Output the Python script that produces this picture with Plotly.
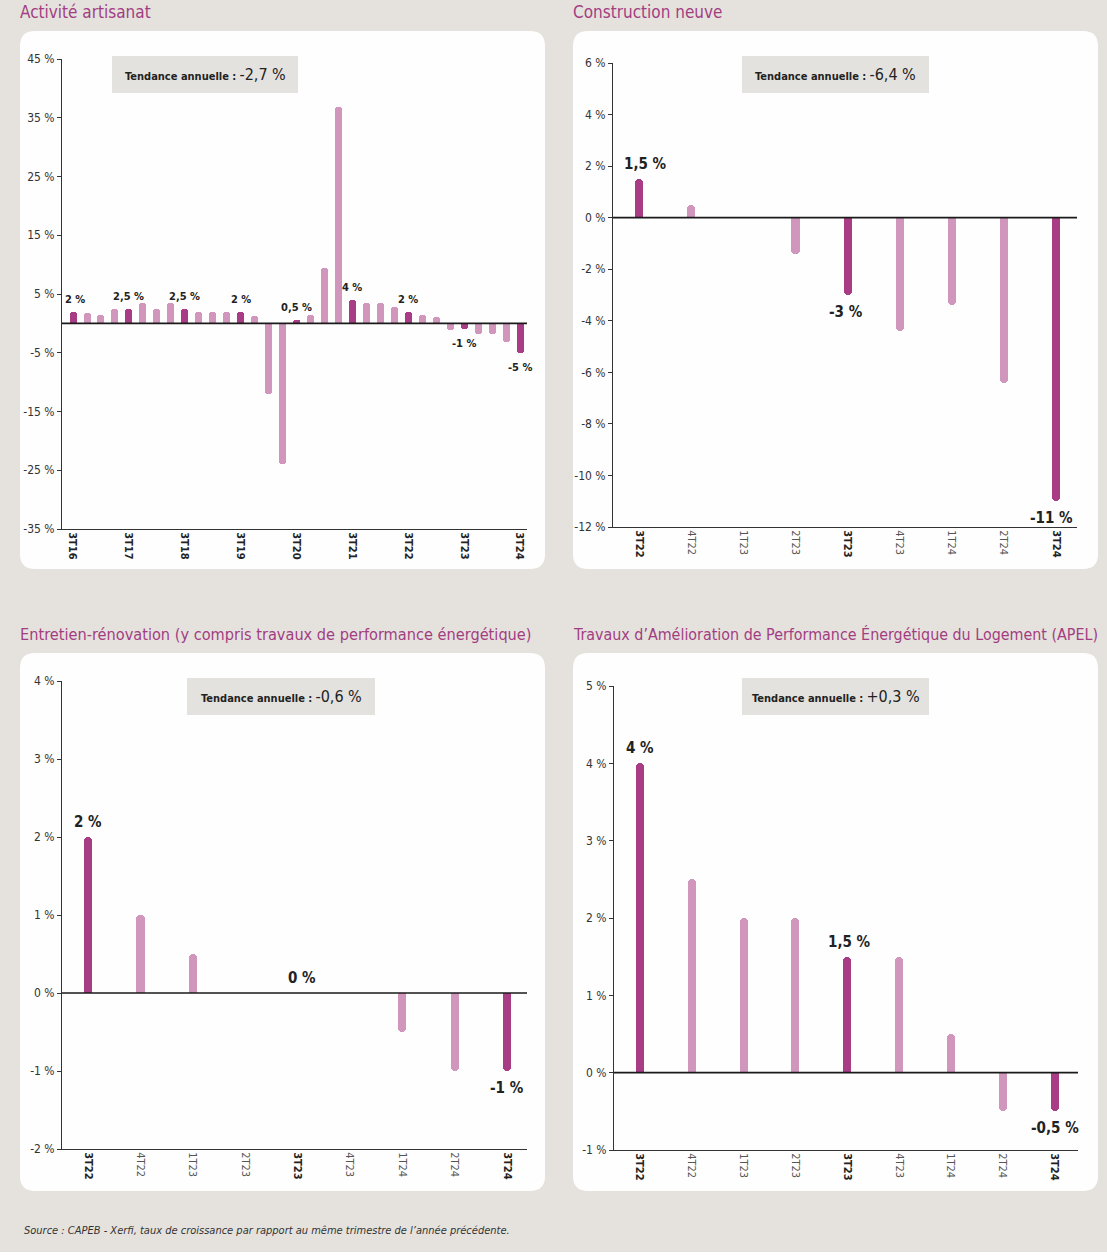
import plotly.graph_objects as go

W, H = 1107, 1256
FONT = "DejaVu Sans Condensed, Liberation Sans Narrow, Arial Narrow, sans-serif"
DARK = "#a83c85"
LIGHT = "#d096bb"
BEIGE = "#e5e2dd"
BOXGRAY = "#e4e2de"
TXT = "#222222"
TITLE_COL = "#a23d82"

# ---------------- data ----------------
p1_quarters = ["3T16", "4T16", "1T17", "2T17", "3T17", "4T17", "1T18", "2T18", "3T18", "4T18",
               "1T19", "2T19", "3T19", "4T19", "1T20", "2T20", "3T20", "4T20", "1T21", "2T21",
               "3T21", "4T21", "1T22", "2T22", "3T22", "4T22", "1T23", "2T23", "3T23", "4T23",
               "1T24", "2T24", "3T24"]
p1_values = [2, 1.8, 1.5, 2.4, 2.5, 3.4, 2.5, 3.4, 2.5, 2.0, 2.0, 2.0, 2, 1.2, -12, -24, 0.5,
             1.5, 9.4, 36.9, 4, 3.4, 3.4, 2.8, 2, 1.4, 1.1, -1.1, -1, -1.8, -1.8, -3.2, -5]
p1_value_labels = {0: "2 %", 4: "2,5 %", 8: "2,5 %", 12: "2 %", 16: "0,5 %", 20: "4 %",
                   24: "2 %", 28: "-1 %", 32: "-5 %"}
p1_yticks = [45, 35, 25, 15, 5, -5, -15, -25, -35]
p1_yticktext = ["45 %", "35 %", "25 %", "15 %", "5 %", "-5 %", "-15 %", "-25 %", "-35 %"]
p1_trend = "-2,7 %"

short_quarters = ["3T22", "4T22", "1T23", "2T23", "3T23", "4T23", "1T24", "2T24", "3T24"]

p2_values = [1.5, 0.5, 0, -1.4, -3, -4.4, -3.4, -6.4, -11]
p2_value_labels = {0: "1,5 %", 4: "-3 %", 8: "-11 %"}
p2_yticks = [6, 4, 2, 0, -2, -4, -6, -8, -10, -12]
p2_yticktext = ["6 %", "4 %", "2 %", "0 %", "-2 %", "-4 %", "-6 %", "-8 %", "-10 %", "-12 %"]
p2_trend = "-6,4 %"

p3_values = [2, 1, 0.5, 0, 0, 0, -0.5, -1, -1]
p3_value_labels = {0: "2 %", 4: "0 %", 8: "-1 %"}
p3_yticks = [4, 3, 2, 1, 0, -1, -2]
p3_yticktext = ["4 %", "3 %", "2 %", "1 %", "0 %", "-1 %", "-2 %"]
p3_trend = "-0,6 %"

p4_values = [4, 2.5, 2, 2, 1.5, 1.5, 0.5, -0.5, -0.5]
p4_value_labels = {0: "4 %", 4: "1,5 %", 8: "-0,5 %"}
p4_yticks = [5, 4, 3, 2, 1, 0, -1]
p4_yticktext = ["5 %", "4 %", "3 %", "2 %", "1 %", "0 %", "-1 %"]
p4_trend = "+0,3 %"

titles = ["Activité artisanat", "Construction neuve",
          "Entretien-rénovation (y compris travaux de performance énergétique)",
          "Travaux d’Amélioration de Performance Énergétique du Logement (APEL)"]
source = "Source : CAPEB - Xerfi, taux de croissance par rapport au même trimestre de l’année précédente."


def px(x):
    return x / W


def py(y):
    return 1 - y / H


def rrect(x0, y0, x1, y1, r, bottom_r=None):
    if bottom_r is None:
        bottom_r = r
    rx, ry = r / W, r / H
    bx, by = bottom_r / W, bottom_r / H
    X0, X1 = px(x0), px(x1)
    Y0, Y1 = py(y0), py(y1)
    return (f"M {X0+rx},{Y0} L {X1-rx},{Y0} Q {X1},{Y0} {X1},{Y0-ry} "
            f"L {X1},{Y1+by} Q {X1},{Y1} {X1-bx},{Y1} L {X0+bx},{Y1} "
            f"Q {X0},{Y1} {X0},{Y1+by} L {X0},{Y0-ry} Q {X0},{Y0} {X0+rx},{Y0} Z")


fig = go.Figure()
shapes = []
annotations = []

shapes.append(dict(type="path", path=rrect(-20, -20, W + 20, 1252, 14), xref="paper", yref="paper",
                   fillcolor=BEIGE, line=dict(width=0), layer="below"))
panel_boxes = [(20, 31, 545, 569), (573, 31, 1098, 569), (20, 653, 545, 1191), (573, 653, 1098, 1191)]
for (a, b, c, d) in panel_boxes:
    shapes.append(dict(type="path", path=rrect(a, b, c, d, 15), xref="paper", yref="paper",
                       fillcolor="#fefefe", line=dict(width=0), layer="below"))

panels = [
    dict(values=p1_values, cats=p1_quarters, vlabels=p1_value_labels, yt=p1_yticks, ytt=p1_yticktext,
         xd=(62, 527), yd=(59, 529), xr=(-0.79, 32.5), yr=(-35, 45), bw=0.5, lfs=11, cr=3.5,
         trend=p1_trend, tbox=(112, 56, 298, 93), title_xy=(18, 12), tfs=17, every=4,
         lshift={0: 2}),
    dict(values=p2_values, cats=short_quarters, vlabels=p2_value_labels, yt=p2_yticks, ytt=p2_yticktext,
         xd=(613, 1077), yd=(63, 527), xr=(-0.5, 8.4), yr=(-12, 6), bw=0.155, lfs=15, cr=4,
         trend=p2_trend, tbox=(742, 56, 929, 93), title_xy=(571, 12), tfs=17, every=1,
         lshift={0: 6, 4: -2, 8: -5}),
    dict(values=p3_values, cats=short_quarters, vlabels=p3_value_labels, yt=p3_yticks, ytt=p3_yticktext,
         xd=(62, 527), yd=(681, 1149), xr=(-0.5, 8.38), yr=(-2, 4), bw=0.155, lfs=15, cr=4,
         trend=p3_trend, tbox=(187, 678, 375, 715), title_xy=(18, 634), tfs=16.2, every=1,
         lshift={4: 4}),
    dict(values=p4_values, cats=short_quarters, vlabels=p4_value_labels, yt=p4_yticks, ytt=p4_yticktext,
         xd=(614, 1078), yd=(686, 1150), xr=(-0.5, 8.45), yr=(-1, 5), bw=0.155, lfs=15, cr=4,
         trend=p4_trend, tbox=(742, 678, 929, 715), title_xy=(571, 634), tfs=15.9, every=1,
         lshift={4: 2}),
]

layout_axes = {}
for i, p in enumerate(panels):
    n = i + 1
    xa = "x" if n == 1 else f"x{n}"
    ya = "y" if n == 1 else f"y{n}"
    xs = list(range(len(p["values"])))
    colors = [DARK if k % 4 == 0 else LIGHT for k in xs]
    fig.add_trace(go.Bar(x=xs, y=p["values"], marker=dict(color=colors, cornerradius=p["cr"], line=dict(width=0)),
                         width=p["bw"], xaxis=xa, yaxis=ya, showlegend=False, hoverinfo="skip"))
    if p["every"] == 4:
        tv = [k for k in xs if k % 4 == 0]
        tt = [f"<b>{p['cats'][k]}</b>" for k in tv]
    else:
        tv = xs
        tt = [f"<b>{c}</b>" if k % 4 == 0 else f"<span style='color:#555'>{c}</span>" for k, c in enumerate(p["cats"])]
    layout_axes[f"xaxis{'' if n == 1 else n}"] = dict(
        domain=[px(p["xd"][0]), px(p["xd"][1])], range=list(p["xr"]), anchor=ya,
        tickmode="array", tickvals=tv, ticktext=tt, tickangle=90, ticks="", automargin=False,
        showline=True, linecolor="#333", linewidth=1, showgrid=False, zeroline=False,
        tickfont=dict(family=FONT, size=11, color=TXT), fixedrange=True)
    layout_axes[f"yaxis{'' if n == 1 else n}"] = dict(
        domain=[py(p["yd"][1]), py(p["yd"][0])], range=list(p["yr"]), anchor=xa,
        tickmode="array", tickvals=p["yt"], ticktext=p["ytt"], ticks="outside", ticklen=4,
        tickcolor="#333", showline=True, linecolor="#333", linewidth=1, showgrid=False,
        zeroline=False, automargin=False, tickfont=dict(family=FONT, size=12, color="#333"),
        fixedrange=True)
    shapes.append(dict(type="line", xref=f"{xa} domain", yref=ya, x0=0, x1=1, y0=0, y1=0,
                       line=dict(color="#1a1a1a", width=1.6), layer="above"))
    for k, txt in p["vlabels"].items():
        v = p["values"][k]
        annotations.append(dict(x=k, y=v, xref=xa, yref=ya, text=f"<b>{txt}</b>", showarrow=False,
                                yanchor="bottom" if v >= 0 else "top", yshift=4 if v >= 0 else -6,
                                xshift=p["lshift"].get(k, 0),
                                font=dict(family=FONT, size=p["lfs"], color=TXT)))
    a, b, c, d = p["tbox"]
    shapes.append(dict(type="rect", xref="paper", yref="paper", x0=px(a), x1=px(c), y0=py(d), y1=py(b),
                       fillcolor=BOXGRAY, line=dict(width=0), layer="below"))
    annotations.append(dict(x=px((a + c) / 2), y=py((b + d) / 2), xref="paper", yref="paper",
                            text=f"<b>Tendance annuelle :</b> <span style='font-size:16px'>{p['trend']}</span>",
                            showarrow=False, xanchor="center", yanchor="middle",
                            font=dict(family=FONT, size=11, color=TXT)))
    tx, ty = p["title_xy"]
    annotations.append(dict(x=px(tx), y=py(ty), xref="paper", yref="paper", text=titles[i],
                            showarrow=False, xanchor="left", yanchor="middle",
                            font=dict(family=FONT, size=p["tfs"], color=TITLE_COL)))

annotations.append(dict(x=px(22), y=py(1230), xref="paper", yref="paper", text=f"<i>{source}</i>",
                        showarrow=False, xanchor="left", yanchor="middle",
                        font=dict(family=FONT, size=11, color="#333")))

fig.update_layout(width=W, height=H, margin=dict(l=0, r=0, t=0, b=0, pad=0, autoexpand=False),
                  paper_bgcolor="#ffffff", plot_bgcolor="rgba(0,0,0,0)",
                  shapes=shapes, annotations=annotations, bargap=0, **layout_axes)

fig.write_html("out.html", config={"displayModeBar": False},
               post_script="document.body.style.margin='0';document.body.style.padding='0';")
